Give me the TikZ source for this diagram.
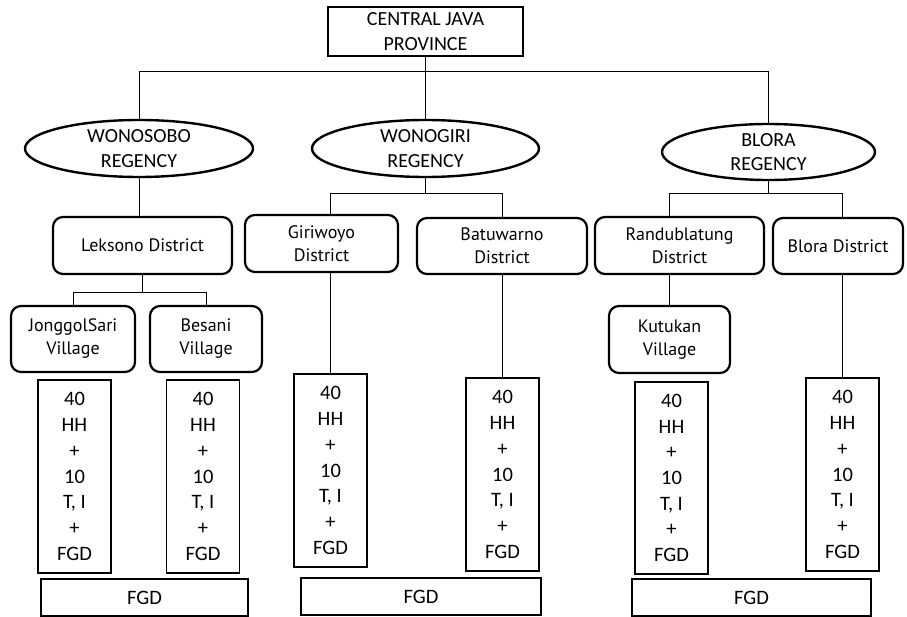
\documentclass[tikz,border=0pt]{standalone}
\usepackage{fontspec}
\setmainfont{Carlito}
\newfontfamily\distfont{PT Sans}
\usetikzlibrary{shapes.geometric}
\tikzset{
  provbox/.style={draw, line width=2.4pt, inner sep=0pt, align=center, font=\fontsize{20}{24.5}\selectfont},
  regency/.style={draw, ellipse, line width=2.4pt, inner sep=0pt, align=center, font=\fontsize{20}{24.5}\selectfont},
  distbox/.style={draw, rounded corners=10pt, line width=2.2pt, inner sep=0pt, align=center, font=\distfont\fontsize{18}{23}\selectfont},
  infobox/.style={draw, line width=1.1pt, inner sep=0pt, align=center, minimum width=73pt, minimum height=193pt, font=\fontsize{20.5}{25.7}\selectfont},
  fgdbox/.style={draw, line width=1.1pt, inner sep=0pt, align=center, minimum height=37pt, font=\fontsize{20.5}{25}\selectfont},
  conn/.style={line width=0.9pt}
}
\begin{document}
\begin{tikzpicture}[x=1pt,y=-1pt]
\useasboundingbox (0,0) rectangle (907,617);
% top
\node[provbox, minimum width=195pt, minimum height=49pt] (prov) at (425.5,31.5) {CENTRAL JAVA\\PROVINCE};
\node[regency, minimum width=228pt, minimum height=57pt] (wonosobo) at (139,148.5) {WONOSOBO\\REGENCY};
\node[regency, minimum width=227pt, minimum height=57pt] (wonogiri) at (425.5,148.5) {WONOGIRI\\REGENCY};
\node[regency, minimum width=213pt, minimum height=56pt] (blora) at (768.5,152) {BLORA\\REGENCY};
% districts
\node[distbox, minimum width=179pt, minimum height=57pt] (leksono) at (142.5,245.5) {Leksono District};
\node[distbox, minimum width=153pt, minimum height=57pt] (giri) at (321.5,243.5) {Giriwoyo\\District};
\node[distbox, minimum width=170pt, minimum height=56pt] (batu) at (502,246) {Batuwarno\\District};
\node[distbox, minimum width=169pt, minimum height=57pt] (randu) at (679.5,245.5) {Randublatung\\District};
\node[distbox, minimum width=130pt, minimum height=56pt] (bdist) at (838,246) {Blora District};
% villages
\node[distbox, minimum width=124pt, minimum height=66pt] (jong) at (73,339) {JonggolSari\\Village};
\node[distbox, minimum width=112pt, minimum height=66pt] (besani) at (206,339) {Besani\\Village};
\node[distbox, minimum width=121pt, minimum height=67pt] (kutu) at (669.5,339.5) {Kutukan\\Village};
% info boxes
\node[infobox] (b1) at (74.5,476.5) {40\\HH\\+\\10\\T, I\\+\\FGD};
\node[infobox] (b2) at (203,476.5) {40\\HH\\+\\10\\T, I\\+\\FGD};
\node[infobox] (b3) at (330.5,470.5) {40\\HH\\+\\10\\T, I\\+\\FGD};
\node[infobox] (b4) at (502.5,474.5) {40\\HH\\+\\10\\T, I\\+\\FGD};
\node[infobox, minimum height=192pt] (b5) at (671.5,478) {40\\HH\\+\\10\\T, I\\+\\FGD};
\node[infobox] (b6) at (842.5,474.5) {40\\HH\\+\\10\\T, I\\+\\FGD};
% FGD boxes
\node[fgdbox, minimum width=207pt] (f1) at (144.5,597.5) {FGD};
\node[fgdbox, minimum width=240pt] (f2) at (421,596.5) {FGD};
\node[fgdbox, minimum width=239pt] (f3) at (751.5,597.5) {FGD};
% connectors
\coordinate (topbar) at (0,71);
\draw[conn] (prov.south) -- (wonogiri.north);
\draw[conn] (wonosobo.north) -- (wonosobo.north |- topbar) -- (blora.north |- topbar) -- (blora.north);
\draw[conn] (wonosobo.south) -- (wonosobo.south |- leksono.north);
\coordinate (lk) at (0,292);
\draw[conn] (leksono.south) -- (leksono.south |- lk);
\draw[conn] (jong.north) -- (jong.north |- lk) -- (besani.north |- lk) -- (besani.north);
\coordinate (wg) at (0,193);
\draw[conn] (wonogiri.south) -- (wonogiri.south |- wg);
\draw[conn] (b3.north |- giri.north) -- (b3.north |- wg) -- (batu.north |- wg) -- (batu.north);
\draw[conn] (b3.north |- giri.south) -- (b3.north);
\draw[conn] (batu.south) -- (batu.south |- b4.north);
\draw[conn] (blora.south) -- (blora.south |- wg);
\draw[conn] (kutu.north |- randu.north) -- (kutu.north |- wg) -- (b6.north |- wg) -- (b6.north |- bdist.north);
\draw[conn] (kutu.north |- randu.south) -- (kutu.north);
\draw[conn] (b6.north |- bdist.south) -- (b6.north);
\end{tikzpicture}
\end{document}
